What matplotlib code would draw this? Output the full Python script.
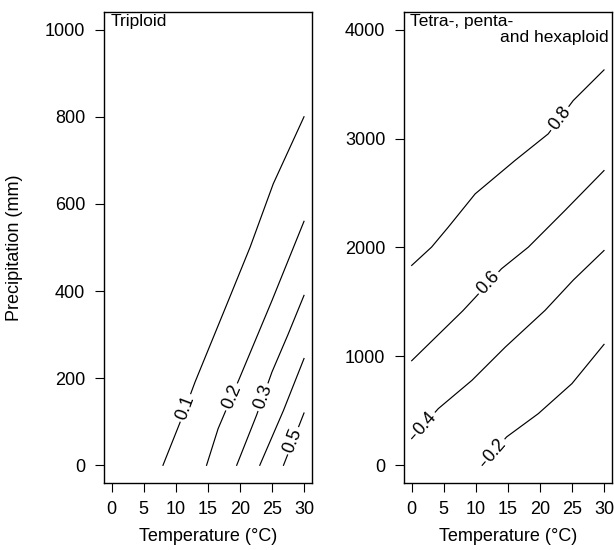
import numpy as np
import matplotlib
matplotlib.use("Agg")
import matplotlib.pyplot as plt

plt.rcParams['font.family'] = ['Liberation Sans', 'DejaVu Sans']

# Triploid panel: contour lines (temperature, precipitation)
tri_levels = ["0.1", "0.2", "0.3", "0.4", "0.5"]
tri_T = [
    [8.0, 10.6, 13.0, 18.2, 21.6, 25.2, 30.0],
    [14.8, 16.6, 20.0, 25.0, 30.0],
    [19.5, 22.6, 25.0, 27.5, 30.0],
    [23.1, 26.8, 30.0],
    [26.8, 30.0],
]
tri_P = [
    [0, 96, 191, 378, 501, 646, 800],
    [0, 84, 202, 378, 560],
    [0, 115, 214, 300, 390],
    [0, 126, 245],
    [0, 120],
]
# where the labels sit (temperature); None = no label
tri_label_T = [11.5, 18.7, 23.6, None, 28.3]

# Tetra-, penta- and hexaploid panel
hex_levels = ["0.2", "0.4", "0.6", "0.8"]
hex_T = [
    [11.0, 14.8, 19.75, 25.0, 27.5, 30.0],
    [0, 4.15, 9.4, 14.6, 20.8, 25.2, 30.0],
    [0, 8.0, 9.9, 14.0, 18.2, 23.9, 30.0],
    [0, 3.1, 5.7, 9.9, 16.1, 21.3, 25.2, 30.0],
]
hex_P = [
    [0, 260, 474, 750, 930, 1110],
    [245, 520, 780, 1085, 1422, 1700, 1972],
    [960, 1420, 1540, 1804, 2003, 2339, 2706],
    [1835, 2003, 2186, 2492, 2798, 3043, 3349, 3630],
]
hex_label_T = [13.0, 2.1, 12.0, 23.1]

x_ticks = [0, 5, 10, 15, 20, 25, 30]
tri_yticks = [0, 200, 400, 600, 800, 1000]
hex_yticks = [0, 1000, 2000, 3000, 4000]

fig = plt.figure(figsize=(6.14, 5.5), dpi=100)
ax1 = fig.add_axes([104 / 614, 1 - 482.7 / 550, 207.7 / 614, 470.5 / 550])
ax2 = fig.add_axes([404 / 614, 1 - 482.7 / 550, 207.7 / 614, 470.5 / 550])


def draw_panel(ax, Ts, Ps, levels, label_T, yticks):
    for T, P, lev, lt in zip(Ts, Ps, levels, label_T):
        ax.plot(T, P, color='black', lw=0.85)
        if lt is None:
            continue
        lp = np.interp(lt, T, P)
        i = min(max(np.searchsorted(T, lt) - 1, 0), len(T) - 2)
        ang = np.degrees(np.arctan2(P[i + 1] - P[i], T[i + 1] - T[i]))
        ax.text(lt, lp, lev, fontsize=13, ha='center', va='center',
                rotation=ang, transform_rotates_text=True,
                rotation_mode='anchor',
                bbox=dict(facecolor='white', edgecolor='none', pad=1.5))
    ymax = yticks[-1]
    ax.set_xlim(-1.2, 31.2)
    ax.set_ylim(-0.04 * ymax, 1.04 * ymax)
    ax.set_xticks(x_ticks)
    ax.set_yticks(yticks)
    ax.tick_params(direction='out', length=6.5, width=0.8, pad=7,
                   labelsize=13, colors='black')
    for s in ax.spines.values():
        s.set_linewidth(1.0)
    ax.set_xlabel("Temperature (°C)", fontsize=13)
    ax.xaxis.set_label_coords(0.5, -0.096)


draw_panel(ax1, tri_T, tri_P, tri_levels, tri_label_T, tri_yticks)
draw_panel(ax2, hex_T, hex_P, hex_levels, hex_label_T, hex_yticks)

ax1.set_ylabel("Precipitation (mm)", fontsize=13)
ax1.yaxis.set_label_coords(-0.39, 0.5)

ax1.text(0.03, 0.997, "Triploid", transform=ax1.transAxes, ha='left', va='top',
         fontsize=12.5)
ax2.text(0.03, 0.997, "Tetra-, penta-", transform=ax2.transAxes, ha='left',
         va='top', fontsize=12.5)
ax2.text(0.985, 0.962, "and hexaploid", transform=ax2.transAxes, ha='right',
         va='top', fontsize=12.5)

fig.savefig("out.png", dpi=100)
